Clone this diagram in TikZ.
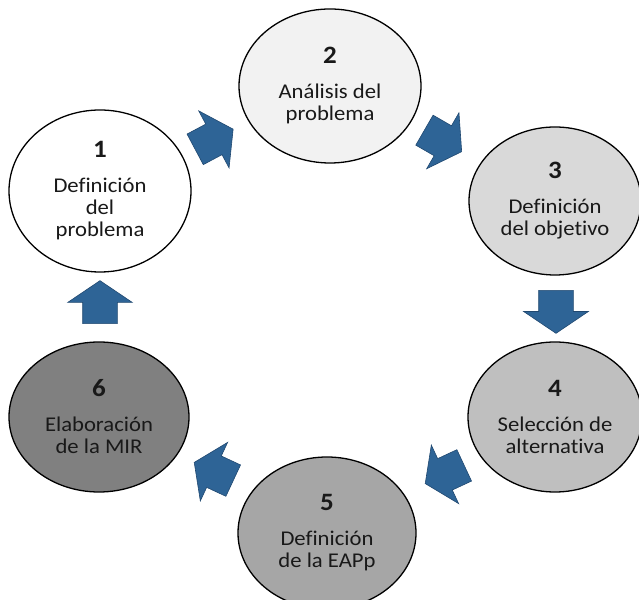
\documentclass[tikz,border=0pt]{standalone}
\usepackage{fontspec}
\setmainfont{Carlito}[FakeStretch=1.08, Ligatures=NoCommon]
\usetikzlibrary{shapes.geometric, shapes.arrows}
\definecolor{stepblue}{RGB}{46,100,150}
\definecolor{stepedge}{RGB}{32,72,112}
\tikzstyle{stage} = [ellipse, draw=black, line width=1.3pt, align=center,
    text=black!90, font=\fontsize{21}{22}\selectfont, inner sep=0pt]
\tikzstyle{blockarrow} = [single arrow, draw=stepedge, fill=stepblue, line width=0.6pt,
    inner xsep=0pt, inner ysep=17pt, minimum height=43pt,
    single arrow head extend=15pt, single arrow tip angle=112]
\newcommand{\stepnum}[1]{{\fontsize{25}{25}\selectfont\bfseries #1}}

\begin{document}
\begin{tikzpicture}[x=1pt, y=1pt]
\useasboundingbox (0,0) rectangle (639,599);
% stages
\node [stage, fill=white, minimum width=182pt, minimum height=162pt] (s1) at (100,408)
    {\stepnum{1}\\[13pt]Definición\\del\\problema};
\node [stage, fill=black!5, minimum width=182pt, minimum height=154pt] (s2) at (330,513)
    {\stepnum{2}\\[13pt]Análisis del\\problema};
\node [stage, fill=black!15, minimum width=172pt, minimum height=148pt] (s3) at (555,398)
    {\stepnum{3}\\[13pt]Definición\\del objetivo};
\node [stage, fill=black!25, minimum width=174pt, minimum height=150pt] (s4) at (555,182)
    {\stepnum{4}\\[13pt]Selección de\\alternativa};
\node [stage, fill=black!35, minimum width=178pt, minimum height=152pt] (s5) at (327,66)
    {\stepnum{5}\\[13pt]Definición\\de la EAPp};
\node [stage, fill=black!50, minimum width=180pt, minimum height=150pt] (s6) at (99,182)
    {\stepnum{6}\\[13pt]Elaboración\\de la MIR};
% arrows between stages
\node [blockarrow, rotate=28] (a12) at (209,457) {};
\node [blockarrow, rotate=-30] (a23) at (438,461) {};
\node [blockarrow, rotate=-90] (a34) at (556,293) {};
\node [blockarrow, rotate=205] (a45) at (450,127) {};
\node [blockarrow, rotate=155] (a56) at (219,125) {};
\node [blockarrow, rotate=90] (a61) at (100,291) {};
\end{tikzpicture}
\end{document}
